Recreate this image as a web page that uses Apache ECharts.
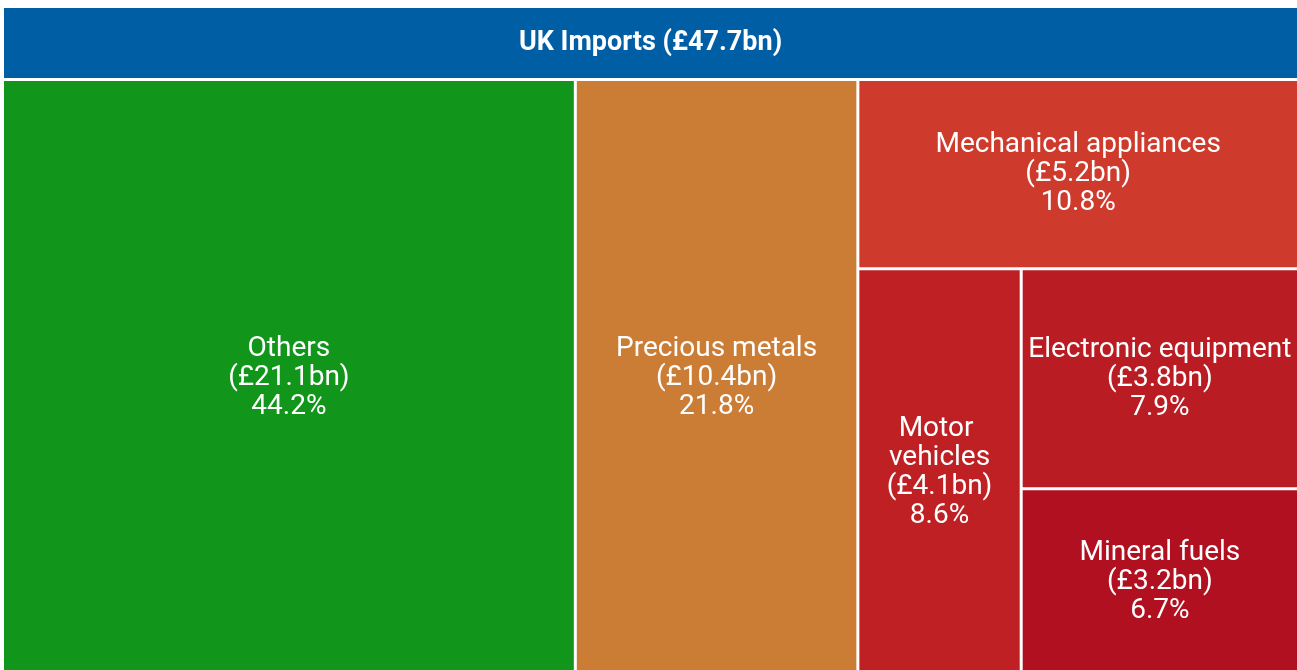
<!DOCTYPE html>
<html>
<head>
<meta charset="utf-8">
<title>UK Imports</title>
<script src="https://cdn.jsdelivr.net/npm/echarts@6/dist/echarts.min.js"></script>
<style>
  html, body { margin: 0; padding: 0; background: #fff; }
  #chart { width: 1297px; height: 670px; }
</style>
</head>
<body>
<div id="chart"></div>
<script>
// data
const rootName = 'UK Imports'
const totalBn = 47.7
const categories = ['Others', 'Precious metals', 'Mechanical appliances', 'Motor vehicles', 'Electronic equipment', 'Mineral fuels']
const valuesBn = [21.1, 10.4, 5.2, 4.1, 3.8, 3.2]
const shares = [44.2, 21.8, 10.8, 8.6, 7.9, 6.7]

const colors = ['#12951b', '#cb7d35', '#ce3a2b', '#be2024', '#b91c22', '#b0101f']

const chart = echarts.init(document.getElementById('chart'))

const children = categories.map((name, i) => ({
  name: name,
  value: shares[i],
  itemStyle: { color: colors[i] }
}))

chart.setOption({
  animation: false,
  series: [{
    type: 'treemap',
    left: 4,
    top: 11,
    right: 0,
    bottom: -4,
    roam: false,
    nodeClick: false,
    breadcrumb: { show: false },
    squareRatio: 0.75,
    levels: [
      {
        itemStyle: { borderWidth: 0, gapWidth: 0, borderColor: '#fff' }
      },
      {
        itemStyle: { borderWidth: 0, gapWidth: 3, borderColor: '#fff' },
        upperLabel: {
          show: true,
          height: 70,
          offset: [0, -3],
          position: 'inside',
          align: 'center',
          verticalAlign: 'middle',
          padding: 0,
          backgroundColor: '#005ea5',
          color: '#fff',
          fontFamily: 'Roboto',
          fontWeight: 'bold',
          fontSize: 27,
          formatter: p => p.name + ' (£' + totalBn + 'bn)'
        }
      },
      {
        itemStyle: { borderWidth: 0, gapWidth: 0 },
        label: {
          show: true,
          position: 'inside',
          align: 'center',
          verticalAlign: 'middle',
          overflow: 'break',
          padding: 0,
          color: '#fff',
          fontFamily: 'Roboto',
          fontSize: 28,
          lineHeight: 29,
          formatter: p => {
            const i = categories.indexOf(p.name)
            return p.name + '\n(£' + valuesBn[i] + 'bn)\n' + shares[i] + '%'
          }
        }
      }
    ],
    data: [{
      name: rootName,
      value: totalBn,
      children: children
    }]
  }]
})
</script>
</body>
</html>
